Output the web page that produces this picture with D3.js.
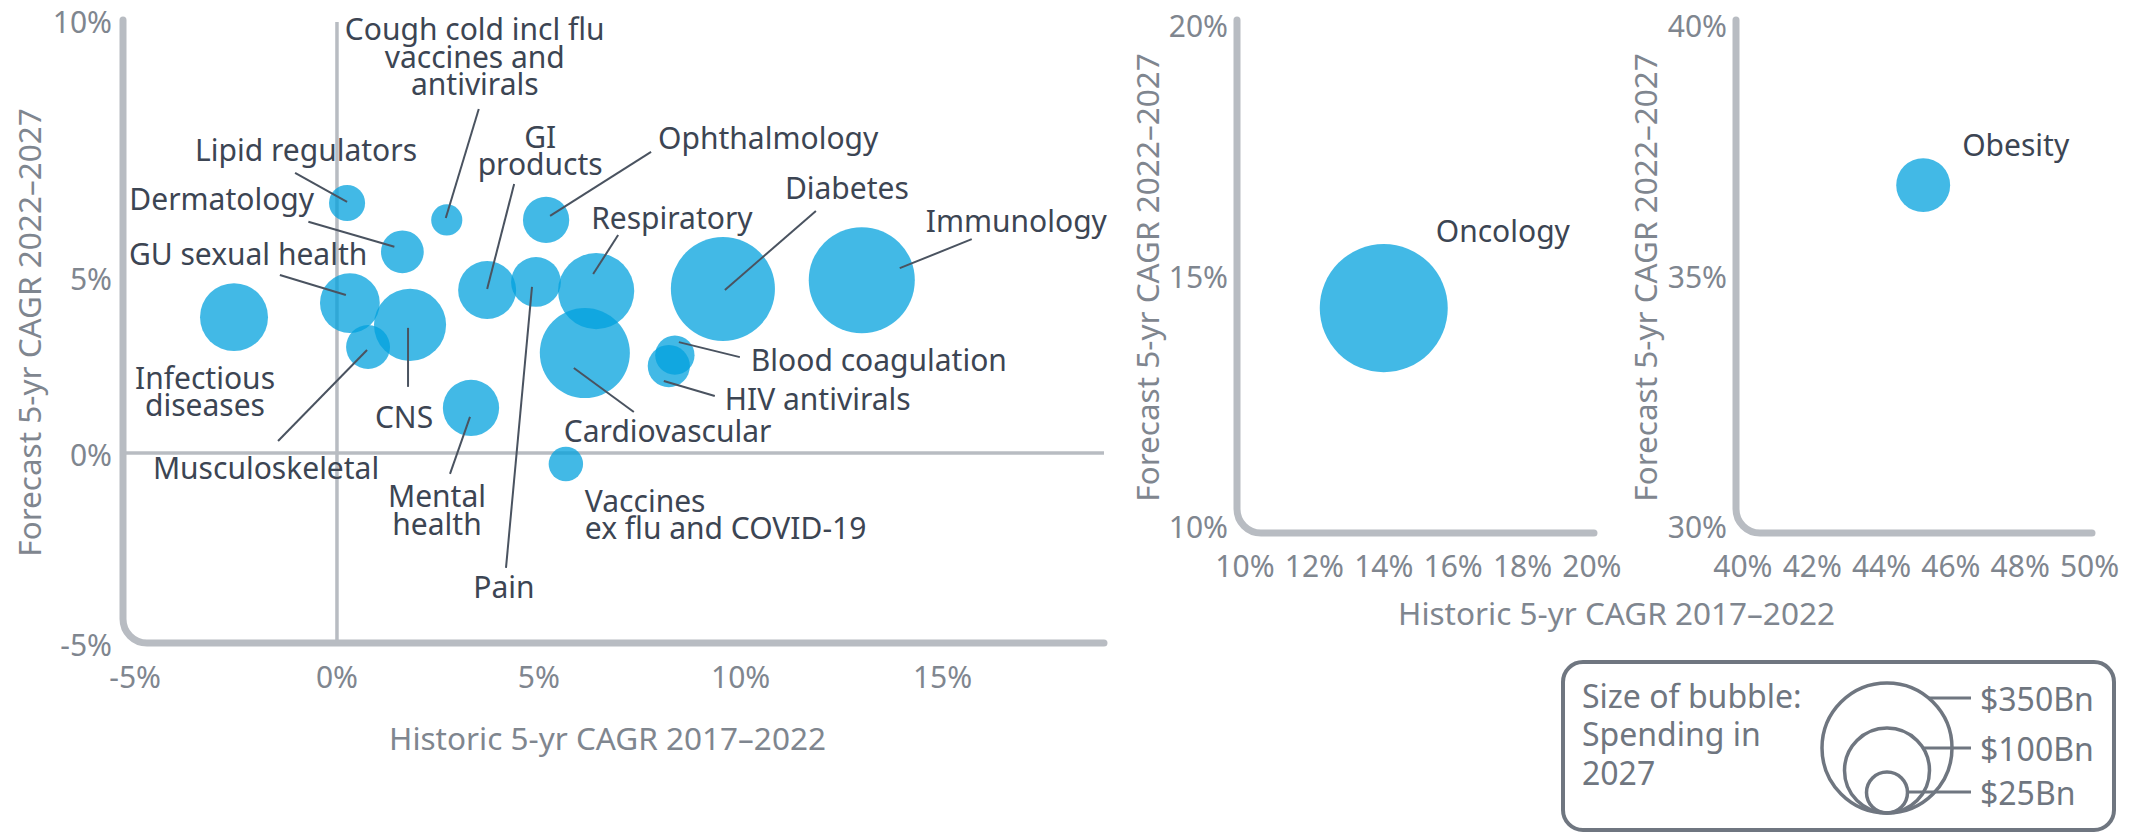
<!DOCTYPE html>
<html>
<head>
<meta charset="utf-8">
<script src="https://cdn.jsdelivr.net/npm/d3@7"></script>
<style>
  body { margin: 0; background: #ffffff; }
  svg text { font-family: "Noto Sans", "Open Sans", sans-serif; }
</style>
</head>
<body>
<svg id="chart"></svg>
<script>
// --- data ---
const areas = [
  "Infectious diseases", "GU sexual health", "Musculoskeletal", "CNS", "Lipid regulators",
  "Dermatology", "Cough cold incl flu vaccines and antivirals", "Mental health", "GI products",
  "Pain", "Ophthalmology", "Respiratory", "Cardiovascular", "Vaccines ex flu and COVID-19",
  "Blood coagulation", "HIV antivirals", "Diabetes", "Immunology", "Oncology", "Obesity"
];
const panelOf = [
  "main", "main", "main", "main", "main", "main", "main", "main", "main", "main",
  "main", "main", "main", "main", "main", "main", "main", "main", "onc", "obe"
];
// Historic 5-yr CAGR 2017-2022 (%)
const historicCagr = [-2.55, 0.32, 0.77, 1.81, 0.25, 1.62, 2.72, 3.32, 3.72, 4.93,
  5.18, 6.42, 6.14, 5.67, 8.37, 8.22, 9.56, 13.0, 14.0, 45.2];
// Forecast 5-yr CAGR 2022-2027 (%)
const forecastCagr = [3.86, 4.26, 3.01, 3.64, 6.44, 5.49, 6.11, 1.28, 4.63, 4.86,
  6.11, 4.6, 2.84, -0.29, 2.78, 2.47, 4.66, 4.91, 14.4, 36.85];
// Spending in 2027 ($Bn)
const spending2027 = [71, 57, 30, 78, 22, 28, 19, 51, 54, 40,
  34, 85, 128, 21, 24, 27, 206, 217, 339, 47];

const mainXTicks = [-5, 0, 5, 10, 15];
const mainYTicks = [-5, 0, 5, 10];
const oncXTicks = [10, 12, 14, 16, 18, 20];
const oncYTicks = [10, 15, 20];
const obeXTicks = [40, 42, 44, 46, 48, 50];
const obeYTicks = [30, 35, 40];
const legendValues = [350, 100, 25];
const legendLabels = ["$350Bn", "$100Bn", "$25Bn"];
const legendTitle = ["Size of bubble:", "Spending in", "2027"];
const xTitle = "Historic 5-yr CAGR 2017\u20132022";
const yTitle = "Forecast 5-yr CAGR 2022\u20132027";

// label placement relative to each bubble centre (px): text offset + leader line
const labelLayout = {
  "Infectious diseases": { lines: ["Infectious", "diseases"], anchor: "middle", dx: -29, dy: 60 },
  "GU sexual health": { lines: ["GU sexual health"], anchor: "start", dx: -221, dy: -50, lead: [-70, -28, -4, -8] },
  "Musculoskeletal": { lines: ["Musculoskeletal"], anchor: "middle", dx: -102, dy: 120, lead: [-90, 94, -1, 3] },
  "CNS": { lines: ["CNS"], anchor: "middle", dx: -6, dy: 92, lead: [-2, 62, -2, 3] },
  "Lipid regulators": { lines: ["Lipid regulators"], anchor: "middle", dx: -41, dy: -53, lead: [-52, -30, 0, -1] },
  "Dermatology": { lines: ["Dermatology"], anchor: "start", dx: -273, dy: -53, lead: [-94, -30, -8, -5] },
  "Cough cold incl flu vaccines and antivirals": { lines: ["Cough cold incl flu", "vaccines and", "antivirals"], anchor: "middle", dx: 28, dy: -191, lead: [32, -111, -1, -2] },
  "Mental health": { lines: ["Mental", "health"], anchor: "middle", dx: -34, dy: 88, lead: [-21, 66, -1, 9] },
  "GI products": { lines: ["GI", "products"], anchor: "middle", dx: 53, dy: -154, lead: [27, -106, 0, -1] },
  "Pain": { lines: ["Pain"], anchor: "middle", dx: -32, dy: 305, lead: [-30, 286, -4, 5] },
  "Ophthalmology": { lines: ["Ophthalmology"], anchor: "start", dx: 112, dy: -82, lead: [105, -68, 4, -4] },
  "Respiratory": { lines: ["Respiratory"], anchor: "start", dx: -5, dy: -74, lead: [22, -56, -3, -17] },
  "Cardiovascular": { lines: ["Cardiovascular"], anchor: "start", dx: -21, dy: 77, lead: [49, 59, -11, 15] },
  "Vaccines ex flu and COVID-19": { lines: ["Vaccines", "ex flu and COVID-19"], anchor: "start", dx: 19, dy: 36 },
  "Blood coagulation": { lines: ["Blood coagulation"], anchor: "start", dx: 76, dy: 4, lead: [65, 2, 4, -13] },
  "HIV antivirals": { lines: ["HIV antivirals"], anchor: "start", dx: 56, dy: 32, lead: [46, 30, -5, 15] },
  "Diabetes": { lines: ["Diabetes"], anchor: "start", dx: 62, dy: -101, lead: [93, -78, 2, 1] },
  "Immunology": { lines: ["Immunology"], anchor: "start", dx: 64, dy: -60, lead: [110, -41, 38, -12] },
  "Oncology": { lines: ["Oncology"], anchor: "start", dx: 52, dy: -78 },
  "Obesity": { lines: ["Obesity"], anchor: "start", dx: 39, dy: -41 }
};

const width = 2136, height = 834;
const bubbleColor = "#00a0dd";
const axisColor = "#b8bcc2";
const tickColor = "#7f868f";
const labelColor = "#3c4553";
const legendColor = "#6f7680";
const labelSize = 30, titleSize = 31.5, legendSize = 32;

const svg = d3.select("#chart").attr("width", width).attr("height", height)
  .style("background", "#ffffff");

const rScale = d3.scaleLinear().domain([0, 25, 100, 350]).range([0, 20.5, 42.5, 65]);

const panels = {
  main: {
    x: d3.scaleLinear().domain([-5.3, 19]).range([123, 1104]),
    y: d3.scaleLinear().domain([-5, 0, 5, 10]).range([643, 453, 277, 20]),
    xTicks: mainXTicks, yTicks: mainYTicks,
    xTickY: 676, yTickDx: -11, yTickDy: 1, titleX: 28, grid: true
  },
  onc: {
    x: d3.scaleLinear().domain([9.77, 20.06]).range([1237, 1594]),
    y: d3.scaleLinear().domain([9.92, 20.14]).range([533, 20]),
    xTicks: oncXTicks, yTicks: oncYTicks,
    xTickY: 565, yTickDx: -9, yTickDy: -2, titleX: 1146, grid: false
  },
  obe: {
    x: d3.scaleLinear().domain([39.8, 50.07]).range([1736, 2092]),
    y: d3.scaleLinear().domain([29.92, 40.14]).range([533, 20]),
    xTicks: obeXTicks, yTicks: obeYTicks,
    xTickY: 565, yTickDx: -9, yTickDy: -2, titleX: 1644, grid: false
  }
};

const pct = d => `${d}%`;

Object.entries(panels).forEach(([id, p]) => {
  const g = svg.append("g").attr("class", `panel-${id}`);
  const [x0, x1] = p.x.range();
  const yr = p.y.range();
  const yBottom = yr[0], yTop = yr[yr.length - 1];
  const rad = 24;

  if (p.grid) {
    g.append("line")
      .attr("x1", x0).attr("x2", x1)
      .attr("y1", p.y(0)).attr("y2", p.y(0))
      .attr("stroke", axisColor).attr("stroke-width", 3.5);
    g.append("line")
      .attr("x1", p.x(0)).attr("x2", p.x(0))
      .attr("y1", yTop + 2).attr("y2", yBottom)
      .attr("stroke", axisColor).attr("stroke-width", 3.5);
  }

  // L-shaped axis with a rounded corner
  g.append("path")
    .attr("d", `M${x0},${yTop} V${yBottom - rad} A${rad},${rad} 0 0 0 ${x0 + rad},${yBottom} H${x1}`)
    .attr("fill", "none")
    .attr("stroke", axisColor)
    .attr("stroke-width", 7)
    .attr("stroke-linecap", "round");

  g.selectAll(".xtick").data(p.xTicks).join("text")
    .attr("x", d => p.x(d)).attr("y", p.xTickY)
    .attr("text-anchor", "middle").attr("dominant-baseline", "central")
    .attr("font-size", 30).attr("fill", tickColor)
    .text(pct);

  g.selectAll(".ytick").data(p.yTicks).join("text")
    .attr("x", x0 + p.yTickDx).attr("y", d => p.y(d) + p.yTickDy)
    .attr("text-anchor", "end").attr("dominant-baseline", "central")
    .attr("font-size", 30).attr("fill", tickColor)
    .text(pct);

  g.append("text")
    .attr("transform", `translate(${p.titleX},${(yBottom + yTop) / 2 + 1}) rotate(-90)`)
    .attr("text-anchor", "middle").attr("dominant-baseline", "central")
    .attr("font-size", titleSize).attr("fill", tickColor)
    .text(yTitle);
});

// shared x-axis titles
svg.append("text")
  .attr("x", (panels.main.x.range()[0] + panels.main.x.range()[1]) / 2 - 6).attr("y", 737)
  .attr("text-anchor", "middle").attr("dominant-baseline", "central")
  .attr("font-size", titleSize).attr("fill", tickColor)
  .text(xTitle);
svg.append("text")
  .attr("x", (panels.onc.x.range()[0] + panels.obe.x.range()[1]) / 2 - 48).attr("y", 612)
  .attr("text-anchor", "middle").attr("dominant-baseline", "central")
  .attr("font-size", titleSize).attr("fill", tickColor)
  .text(xTitle);

// bubbles
const rows = areas.map((name, i) => {
  const p = panels[panelOf[i]];
  return {
    name,
    cx: p.x(historicCagr[i]),
    cy: p.y(forecastCagr[i]),
    r: rScale(spending2027[i])
  };
});

svg.append("g").selectAll("circle").data(rows).join("circle")
  .attr("cx", d => d.cx).attr("cy", d => d.cy).attr("r", d => d.r)
  .attr("fill", bubbleColor).attr("fill-opacity", 0.74);

// leader lines + labels
const ann = svg.append("g");
rows.forEach(d => {
  const L = labelLayout[d.name];
  if (L.lead) {
    ann.append("line")
      .attr("x1", d.cx + L.lead[0]).attr("y1", d.cy + L.lead[1])
      .attr("x2", d.cx + L.lead[2]).attr("y2", d.cy + L.lead[3])
      .attr("stroke", "#4a5360").attr("stroke-width", 2);
  }
  const t = ann.append("text")
    .attr("x", d.cx + L.dx).attr("y", d.cy + L.dy)
    .attr("text-anchor", L.anchor)
    .attr("font-size", labelSize).attr("fill", labelColor);
  L.lines.forEach((line, k) => {
    t.append("tspan")
      .attr("x", d.cx + L.dx)
      .attr("y", d.cy + L.dy + k * 27.5)
      .attr("dominant-baseline", "central")
      .text(line);
  });
});

// legend
const lg = svg.append("g");
lg.append("rect")
  .attr("x", 1563).attr("y", 662).attr("width", 551).attr("height", 168)
  .attr("rx", 20)
  .attr("fill", "#ffffff").attr("stroke", legendColor).attr("stroke-width", 4);

lg.selectAll(".lt").data(legendTitle).join("text")
  .attr("x", 1582).attr("y", (d, i) => 695 + i * 38.5)
  .attr("dominant-baseline", "central")
  .attr("font-size", legendSize).attr("fill", legendColor)
  .text(d => d);

const legendBase = 813, legendCx = 1887;
const legendLabelY = [698, 748, 792];
lg.selectAll(".lc").data(legendValues).join("circle")
  .attr("cx", legendCx)
  .attr("cy", d => legendBase - rScale(d))
  .attr("r", d => rScale(d))
  .attr("fill", "none").attr("stroke", legendColor).attr("stroke-width", 3.5);

legendValues.forEach((v, i) => {
  const r = rScale(v);
  const cy = legendBase - r;
  const dy = legendLabelY[i] - cy;
  const edge = legendCx + Math.sqrt(Math.max(0, r * r - dy * dy));
  lg.append("line")
    .attr("x1", edge).attr("x2", 1971)
    .attr("y1", legendLabelY[i]).attr("y2", legendLabelY[i])
    .attr("stroke", legendColor).attr("stroke-width", 3);
  lg.append("text")
    .attr("x", 1980).attr("y", legendLabelY[i])
    .attr("dominant-baseline", "central")
    .attr("font-size", legendSize).attr("fill", legendColor)
    .text(legendLabels[i]);
});
</script>
</body>
</html>
